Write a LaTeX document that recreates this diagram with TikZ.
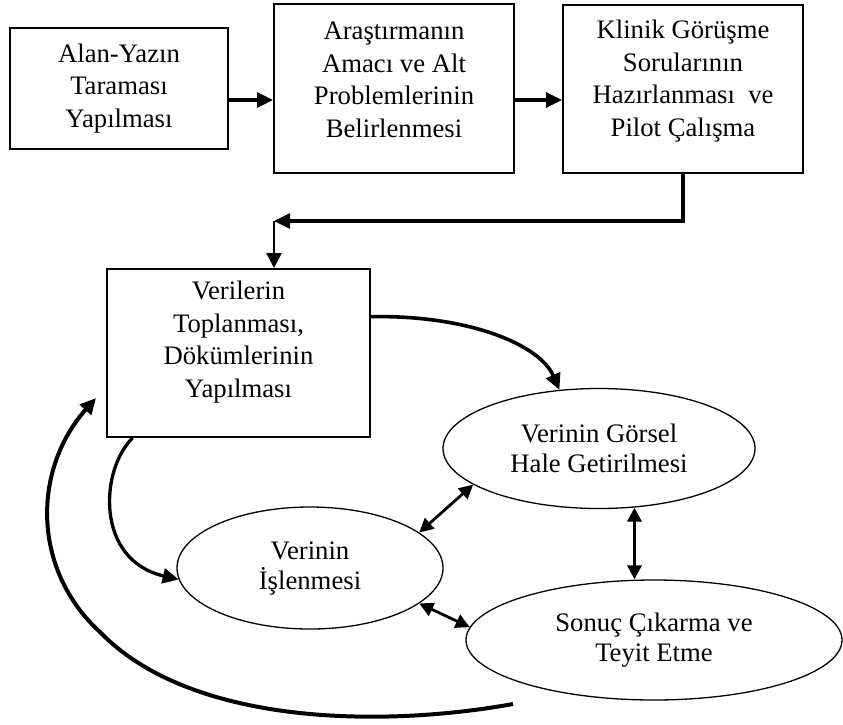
\documentclass[tikz,border=0pt]{standalone}
\usepackage{fontspec}
\setmainfont{Liberation Serif}
\usetikzlibrary{arrows.meta,shapes.geometric,calc}
\begin{document}
\begin{tikzpicture}[x=1pt,y=-1pt,
  every node/.style={font=\fontsize{26.7}{32.5}\selectfont, align=center, inner sep=0pt},
  stepbox/.style={draw, line width=2pt, rectangle},
  oval/.style={draw, ellipse, line width=1.3pt, font=\fontsize{26.7}{30}\selectfont},
  flow/.style={line width=3.3pt, -{Triangle[length=16pt,width=15pt]}},
  link/.style={line width=2.8pt, {Triangle[length=14pt,width=14pt]}-{Triangle[length=14pt,width=14pt]}},
]
\useasboundingbox (0,0) rectangle (843,724);

% top row of process boxes
\node[stepbox, minimum width=218pt, minimum height=121pt] (b1) at (119,88.5) {Alan-Yazın\\Taraması\\Yapılması};
\node[stepbox, minimum width=240pt, minimum height=169pt] (b2) at (394,88.5) {};
\node (t2) at (394,80) {Araştırmanın\\Amacı ve Alt\\Problemlerinin\\Belirlenmesi};
\node[stepbox, minimum width=240pt, minimum height=168pt] (b3) at (683,89) {};
\node (t3) at (683,81) {Klinik Görüşme\\Sorularının\\Hazırlanması~ ve\\Pilot Çalışma};

% data collection box
\node[stepbox, minimum width=263pt, minimum height=168pt] (b4) at (238.5,353) {};
\node (t4) at (238.5,342) {Verilerin\\Toplanması,\\Dökümlerinin\\Yapılması};

% analysis cycle
\node[oval, minimum width=312pt, minimum height=120pt] (eg) at (599,448.5) {Verinin Görsel\\Hale Getirilmesi};
\node[oval, minimum width=266pt, minimum height=122pt] (ei) at (310,568) {Verinin\\İşlenmesi};
\node[oval, minimum width=376pt, minimum height=120pt] (es) at (654,640) {Sonuç Çıkarma ve\\Teyit Etme};

% top flow
\draw[flow] ([yshift=-11.5pt]b1.east) -- ([yshift=-11.5pt]b1.east -| b2.west);
\draw[flow] ([yshift=-11.5pt]b2.east) -- ([yshift=-11.5pt]b2.east -| b3.west);
\coordinate (turn) at (274,221);
\draw[flow] (b3.south) |- (turn);
\draw[line width=2.8pt, -{Triangle[length=15pt,width=15pt]}] (turn) -- (turn |- b4.north);

% from data collection into the cycle
\draw[line width=3.6pt, -{Triangle[length=16pt,width=15pt]}]
  ($(b4.north east)!0.286!(b4.south east)$) .. controls (470,315) and (540,345) .. (eg.124.6);
\draw[line width=3.3pt, -{Triangle[length=16pt,width=15pt]}]
  ($(b4.south west)!0.1!(b4.south east)$) .. controls (100,470) and (95,560) .. (ei.185);

% feedback loop back to data collection
\coordinate (tail) at (513,704);
\draw[line width=4pt, -{Triangle[length=16pt,width=15pt]}]
  (tail) .. controls (380,728) and (190,725) .. (100,632)
         .. controls (32,570) and (32,470) .. ([xshift=-10pt,yshift=-45pt]b4.west);

% two-way links inside the cycle
\draw[link] (ei.18) -- (eg.196);
\draw[link] (ei.342) -- (es.176);
\draw[link, line width=3.3pt] (eg.301.7) -- (eg.301.7 |- es.north);
\end{tikzpicture}
\end{document}
